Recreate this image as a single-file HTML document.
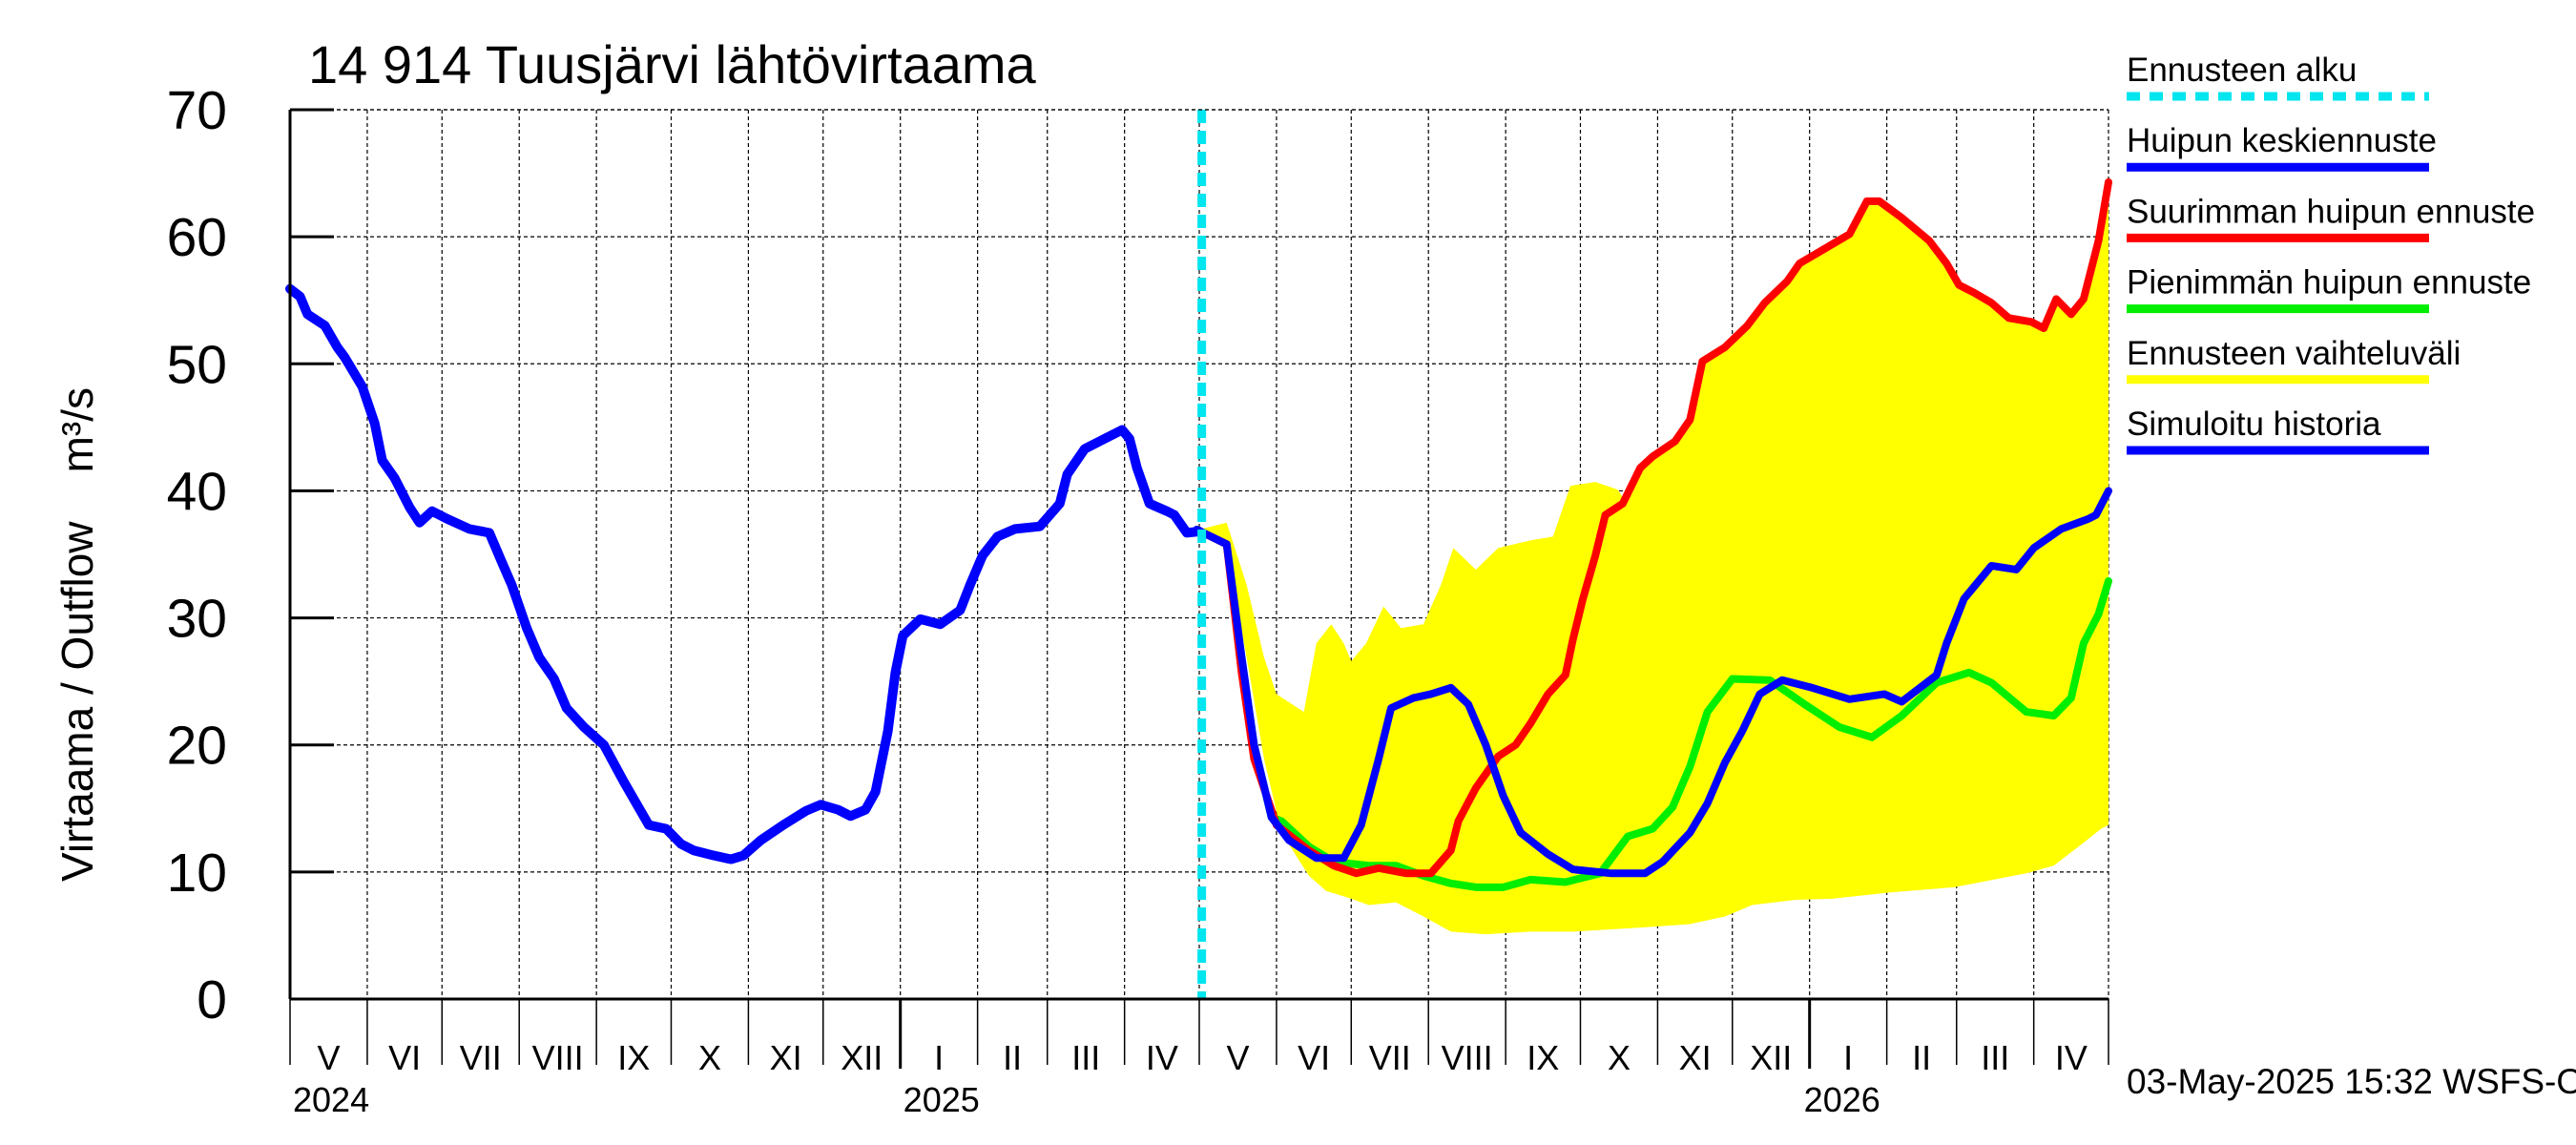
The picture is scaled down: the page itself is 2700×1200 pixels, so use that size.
<!DOCTYPE html>
<html><head><meta charset="utf-8"><style>
html,body{margin:0;padding:0;background:#fff;}
svg{display:block;font-family:"Liberation Sans",sans-serif;}
</style></head><body>
<svg id="chart" width="2700" height="1200" viewBox="0 0 2700 1200" xmlns="http://www.w3.org/2000/svg">
<text x="323" y="87" font-size="56">14 914 Tuusjärvi lähtövirtaama</text>
<text transform="translate(97,665) rotate(-90)" text-anchor="middle" font-size="46" xml:space="preserve" style="white-space:pre">Virtaama / Outflow    m³/s</text>
<g id="grid"></g>
<g id="band"></g>
<g id="series"></g>
<g id="axes"></g>
<g id="legend"></g>
<text x="2229" y="1146" font-size="37">03-May-2025 15:32 WSFS-O</text>
</svg>
<script>
// data: day offsets from 2024-05-01, values in m3/s
const histDays=[0,4,7,14,19,22,29,34,37,42,48,52,57,63,72,80,85,89,95,100,106,111,118,126,134,139,144,151,157,162,170,177,182,189,198,207,213,220,225,231,235,240,243,246,253,261,269,273,278,284,291,301,309,312,319,327,334,337,340,345,352,355,360,365];
const histVals=[55.9,55.3,53.9,53,51.3,50.5,48.2,45.3,42.4,41,38.7,37.5,38.4,37.8,37,36.7,34.4,32.6,29.2,26.9,25.2,22.9,21.4,20,17.1,15.4,13.7,13.4,12.2,11.7,11.3,11,11.3,12.5,13.7,14.8,15.3,14.9,14.4,14.9,16.3,21.1,25.7,28.6,29.9,29.5,30.6,32.6,34.9,36.4,37,37.2,39,41.3,43.3,44.1,44.8,44.1,41.8,39,38.4,38.1,36.7,36.8];
const medDays=[364,376,382,387,394,401,412,423,430,437,442,451,458,466,473,480,487,494,505,515,530,544,551,562,569,576,583,590,599,611,626,640,647,661,665,672,683,693,700,711,722,725,730];
const medVals=[36.95,35.8,26.9,20,14.3,12.5,11.1,11.1,13.7,18.9,22.9,23.7,24,24.5,23.2,20,16,13.1,11.4,10.2,9.9,9.9,10.8,13.1,15.4,18.6,21.1,24,25.1,24.5,23.6,24,23.4,25.5,28,31.5,34.1,33.8,35.5,37,37.8,38.1,40];
const maxDays=[364,376,382,387,396,409,419,428,437,448,458,466,469,476,485,492,498,505,512,515,519,524,528,535,542,547,556,562,567,576,585,592,601,606,619,626,633,638,647,658,665,670,676,683,690,699,704,709,715,720,726,730];
const maxVals=[36.95,35.8,25.7,18.9,13.7,11.7,10.5,9.9,10.3,9.9,9.9,11.7,14,16.6,19.1,20,21.7,24,25.5,28.3,31.5,34.9,38.1,39,41.8,42.7,43.9,45.6,50.2,51.3,53,54.8,56.5,57.9,59.4,60.2,62.8,62.8,61.5,59.7,57.9,56.2,55.6,54.8,53.6,53.3,52.8,55.1,53.9,55.1,59.7,64.3];
const minDays=[364,376,382,387,394,398,409,419,433,444,455,466,476,487,498,512,526,537,547,555,562,569,579,594,608,622,635,647,661,674,683,697,708,715,720,726,730];
const minVals=[36.95,35.8,26.9,20,14.3,14,12,10.8,10.5,10.5,9.7,9.1,8.8,8.8,9.4,9.2,9.9,12.8,13.4,15.1,18.3,22.6,25.2,25.1,23.2,21.4,20.6,22.3,24.9,25.7,24.9,22.6,22.3,23.7,28,30.3,32.9];
const upDays=[364,376,384,391,396,407,412,418,423,426,432,439,446,455,462,467,476,485,498,507,514,524,533,535];
const upVals=[36.9,37.5,32.6,26.9,24,22.6,28,29.5,28,26.6,28,30.9,29.2,29.5,32.6,35.5,33.8,35.5,36.1,36.4,40.4,40.7,40.1,39.5];
const loDays=[364,376,384,391,398,409,416,426,433,444,455,466,480,498,515,540,562,576,587,604,619,643,668,697,708,718,727,730];
const loVals=[36.9,35.5,26.9,18.9,13.1,9.7,8.5,7.9,7.4,7.6,6.5,5.3,5.1,5.3,5.3,5.6,5.9,6.5,7.4,7.8,7.9,8.4,8.8,9.9,10.5,12,13.4,13.7];
const yTicks=[0,10,20,30,40,50,60,70];
const monthBounds=[0,31,61,92,123,153,184,214,245,276,304,335,365,396,426,457,488,518,549,579,610,641,669,700,730];
const monthLabels=["V","VI","VII","VIII","IX","X","XI","XII","I","II","III","IV","V","VI","VII","VIII","IX","X","XI","XII","I","II","III","IV"];
const yearDays=[0,245,610];
const yearLabels=["2024","2025","2026"];
const forecastStart=366;

const L=304,R=2210,T=115,B=1047;
const X=d=>L+d*(R-L)/730;
const Y=v=>B-v*(B-T)/70;
const NS="http://www.w3.org/2000/svg";
function mk(parent,tag,attrs){const e=document.createElementNS(NS,tag);for(const k in attrs)e.setAttribute(k,attrs[k]);parent.appendChild(e);return e;}
const grid=document.getElementById('grid'),axes=document.getElementById('axes'),series=document.getElementById('series'),band=document.getElementById('band'),legend=document.getElementById('legend');

yTicks.forEach(v=>{
  if(v>0){const g=mk(grid,'line',{x1:L,x2:R,y1:Y(v),y2:Y(v),stroke:'#000','stroke-width':1.2,'stroke-dasharray':'4,3'});
  
  }
  const t=mk(axes,'line',{x1:L,x2:L+46,y1:Y(v),y2:Y(v),stroke:'#000','stroke-width':3});
  
  
  const tl=mk(axes,'text',{x:238,y:Y(v)+20,'text-anchor':'end','font-size':57});
  tl.textContent=v;
  
  
});
monthBounds.forEach((d,i)=>{
  if(i>0){const g=mk(grid,'line',{x1:X(d),x2:X(d),y1:T,y2:B,stroke:'#000','stroke-width':1.2,'stroke-dasharray':'4,3'});
  
  }
  const isYear=yearDays.includes(d)&&d>0;
  const t=mk(axes,'line',{x1:X(d),x2:X(d),y1:B,y2:isYear?1120:1116,stroke:'#000','stroke-width':isYear?3:1.5});
  
  
});
monthLabels.forEach((m,i)=>{
  const t=mk(axes,'text',{x:(X(monthBounds[i])+X(monthBounds[i+1]))/2,y:1121,'text-anchor':'middle','font-size':36});
  t.textContent=m;
  
  
});
yearLabels.forEach((y,i)=>{
  const t=mk(axes,'text',{x:X(yearDays[i])+(i==2?-6:3),y:1165,'font-size':36});
  t.textContent=y;
  
  
});
let ax=mk(axes,'line',{x1:L,x2:L,y1:T,y2:B,stroke:'#000','stroke-width':3});


ax=mk(axes,'line',{x1:L,x2:R,y1:B,y2:B,stroke:'#000','stroke-width':3});


ax=mk(axes,'line',{x1:L,x2:R,y1:T,y2:T,stroke:'#000','stroke-width':1.2,'stroke-dasharray':'4,3'});



function interp(ds,vs,d){if(d<=ds[0])return vs[0];for(let i=1;i<ds.length;i++){if(d<=ds[i]){const f=(d-ds[i-1])/(ds[i]-ds[i-1]);return vs[i-1]+f*(vs[i]-vs[i-1]);}}return vs[vs.length-1];}
let up=[];
for(let d=364;d<=730;d++){let v=interp(maxDays,maxVals,d);if(d<=535)v=Math.max(v,interp(upDays,upVals,d));up.push([X(d),Y(v)]);}
let lo=loDays.map((d,i)=>[X(d),Y(loVals[i])]).reverse();
const bp=mk(band,'polygon',{points:up.concat(lo).map(p=>p.join(',')).join(' '),fill:'#ffff00'});



function line(ds,vs,color,w,name){
  const p=mk(series,'polyline',{points:ds.map((d,i)=>X(d)+','+Y(vs[i])).join(' '),fill:'none',stroke:color,'stroke-width':w,'stroke-linejoin':'round','stroke-linecap':'round'});
  
  
}
line(minDays,minVals,'#00ee00',8,'min-peak-forecast-line');
line(maxDays,maxVals,'#ff0000',8,'max-peak-forecast-line');
line(medDays,medVals,'#0000ff',8,'median-peak-forecast-line');
line(histDays,histVals,'#0000ff',10,'simulated-history-line');
const cy=mk(series,'line',{x1:X(forecastStart),x2:X(forecastStart),y1:T,y2:B,stroke:'#00e5ee','stroke-width':9,'stroke-dasharray':'14,8'});



const leg=[["Ennusteen alku","#00e5ee",true],["Huipun keskiennuste","#0000ff"],["Suurimman huipun ennuste","#ff0000"],["Pienimmän huipun ennuste","#00ee00"],["Ennusteen vaihteluväli","#ffff00"],["Simuloitu historia","#0000ff"]];
leg.forEach((e,i)=>{
  const ty=85+i*74.2, ly=101+i*74.2;
  const t=mk(legend,'text',{x:2229,y:ty,'font-size':35});
  t.textContent=e[0];
  
  
  const a={x1:2229,x2:2546,y1:ly,y2:ly,stroke:e[1],'stroke-width':9};
  if(e[2])a['stroke-dasharray']='14,10';
  const l=mk(legend,'line',a);
  
  
});
</script>
</body></html>
